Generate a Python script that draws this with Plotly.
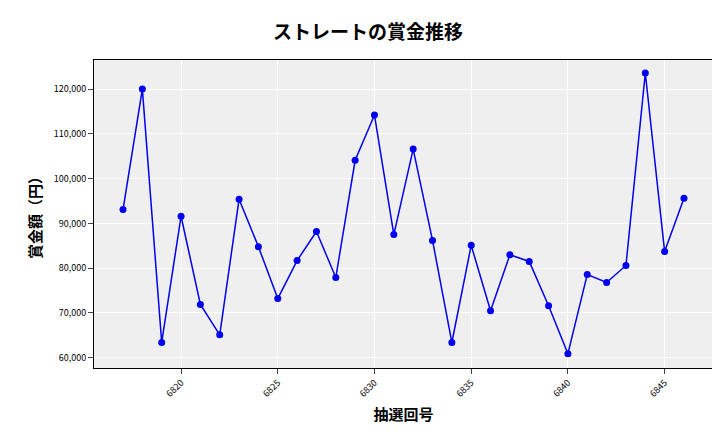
import plotly.graph_objects as go

# 抽選回号と賞金額
kaigo = list(range(6817, 6847))
shokin = [93100, 120000, 63400, 91600, 71900, 65100, 95400, 84800, 73200, 81700,
          88200, 77900, 104100, 114200, 87500, 106600, 86200, 63400, 85100, 70500,
          83000, 81500, 71600, 60900, 78600, 76800, 80600, 123600, 83700, 95600]

font = "Noto Sans CJK JP"

fig = go.Figure()
fig.add_scatter(x=kaigo, y=shokin, mode='lines+markers',
                line=dict(color='#0000ee', width=1.5),
                marker=dict(color='#0000ee', size=7))

fig.update_layout(
    width=720, height=432,
    margin=dict(l=86, r=15, t=52, b=72, autoexpand=False),
    paper_bgcolor='white', plot_bgcolor='#efefef',
    font=dict(family=font, color='black'),
    title=dict(text='<b>ストレートの賞金推移</b>', x=0.5, xanchor='center', y=0.96,
               font=dict(size=19)),
    showlegend=False,
)
fig.update_xaxes(title=dict(text='<b>抽選回号</b>', font=dict(size=15), standoff=10),
                 tickvals=[6820, 6825, 6830, 6835, 6840, 6845], tickangle=-45,
                 tickfont=dict(size=9), gridcolor='white', showline=True,
                 linecolor='black', mirror=True, ticks='outside', zeroline=False,
                 automargin=False, range=[6815.5, 6847.5])
fig.update_yaxes(title=dict(text='<b>賞金額（円）</b>', font=dict(size=15), standoff=8),
                 tickformat=',', dtick=10000, tickfont=dict(size=9),
                 gridcolor='white', showline=True, linecolor='black', mirror=True,
                 ticks='outside', zeroline=False, automargin=False,
                 range=[57700, 126500])

fig.write_html("out.html")
